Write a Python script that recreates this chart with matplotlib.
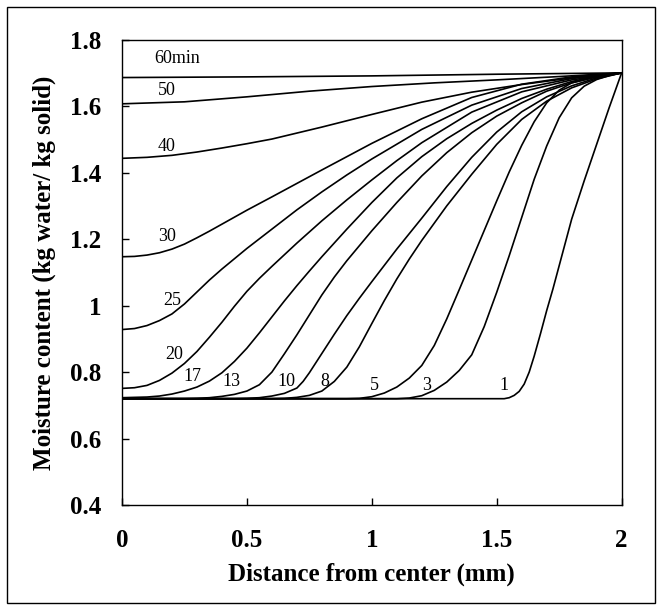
import matplotlib
matplotlib.use("Agg")
import matplotlib.pyplot as plt
from matplotlib.patches import Rectangle

# moisture profiles (distance in mm, moisture kg/kg)
d_60 = [0, 0.5, 1.0, 1.5, 2.0]
m_60 = [1.686, 1.688, 1.691, 1.696, 1.70]

d_50 = [0, 0.25, 0.5, 0.75, 1.0, 1.25, 1.5, 1.75, 2.0]
m_50 = [1.607, 1.613, 1.628, 1.645, 1.659, 1.670, 1.679, 1.689, 1.70]

d_40 = [0, 0.1, 0.2, 0.3, 0.4, 0.5, 0.6, 0.8, 1.0, 1.2, 1.4, 1.6, 1.8, 2.0]
m_40 = [1.443, 1.446, 1.452, 1.462, 1.474, 1.487, 1.501, 1.537, 1.575, 1.612, 1.642, 1.665, 1.685, 1.70]

d_30 = [0, 0.05, 0.1, 0.15, 0.2, 0.25, 0.3, 0.35, 0.4, 0.5, 0.6, 0.8, 1.0, 1.2, 1.4, 1.6, 1.8, 2.0]
m_30 = [1.147, 1.148, 1.152, 1.159, 1.170, 1.185, 1.204, 1.224, 1.245, 1.287, 1.327, 1.408, 1.488, 1.562, 1.626, 1.666, 1.688, 1.70]

d_25 = [0, 0.05, 0.1, 0.15, 0.2, 0.25, 0.3, 0.35, 0.4, 0.5, 0.6, 0.7, 0.8, 0.9, 1.0, 1.2, 1.4, 1.6, 1.8, 2.0]
m_25 = [0.928, 0.931, 0.940, 0.955, 0.975, 1.005, 1.041, 1.077, 1.110, 1.172, 1.230, 1.288, 1.342, 1.393, 1.441, 1.530, 1.603, 1.653, 1.683, 1.70]

d_20 = [0, 0.05, 0.1, 0.15, 0.2, 0.25, 0.3, 0.35, 0.4, 0.45, 0.5, 0.55, 0.6, 0.7, 0.8, 0.9, 1.0, 1.1, 1.2, 1.4, 1.6, 1.8, 2.0]
m_20 = [0.751, 0.753, 0.760, 0.775, 0.797, 0.826, 0.862, 0.905, 0.950, 0.998, 1.043, 1.082, 1.118, 1.188, 1.255, 1.318, 1.378, 1.436, 1.490, 1.582, 1.643, 1.679, 1.70]

d_17 = [0, 0.1, 0.15, 0.2, 0.25, 0.3, 0.35, 0.4, 0.45, 0.5, 0.55, 0.6, 0.65, 0.7, 0.75, 0.8, 0.9, 1.0, 1.1, 1.2, 1.3, 1.4, 1.5, 1.6, 1.7, 1.8, 1.9, 2.0]
m_17 = [0.723, 0.725, 0.728, 0.734, 0.743, 0.755, 0.773, 0.798, 0.832, 0.872, 0.918, 0.966, 1.014, 1.060, 1.104, 1.147, 1.230, 1.310, 1.384, 1.448, 1.502, 1.548, 1.588, 1.623, 1.651, 1.674, 1.690, 1.70]

d_13 = [0, 0.25, 0.3, 0.35, 0.4, 0.45, 0.5, 0.55, 0.6, 0.65, 0.7, 0.75, 0.8, 0.85, 0.9, 1.0, 1.1, 1.2, 1.3, 1.4, 1.5, 1.6, 1.7, 1.8, 1.9, 2.0]
m_13 = [0.72, 0.72, 0.721, 0.723, 0.727, 0.733, 0.743, 0.762, 0.800, 0.855, 0.912, 0.972, 1.032, 1.086, 1.135, 1.225, 1.310, 1.390, 1.460, 1.520, 1.570, 1.610, 1.645, 1.670, 1.688, 1.70]

d_10 = [0, 0.45, 0.5, 0.55, 0.6, 0.65, 0.7, 0.725, 0.75, 0.8, 0.85, 0.9, 0.95, 1.0, 1.1, 1.2, 1.3, 1.4, 1.5, 1.6, 1.7, 1.8, 1.9, 2.0]
m_10 = [0.72, 0.72, 0.721, 0.723, 0.728, 0.736, 0.752, 0.772, 0.798, 0.856, 0.914, 0.970, 1.022, 1.072, 1.170, 1.263, 1.358, 1.446, 1.522, 1.583, 1.628, 1.661, 1.685, 1.70]

d_8 = [0, 0.6, 0.65, 0.7, 0.75, 0.8, 0.85, 0.9, 0.95, 1.0, 1.05, 1.1, 1.15, 1.2, 1.3, 1.4, 1.5, 1.6, 1.7, 1.8, 1.9, 2.0]
m_8 = [0.72, 0.72, 0.721, 0.724, 0.730, 0.743, 0.772, 0.815, 0.876, 0.946, 1.015, 1.080, 1.140, 1.196, 1.300, 1.395, 1.485, 1.560, 1.615, 1.655, 1.682, 1.70]

d_5 = [0, 0.9, 0.95, 1.0, 1.05, 1.1, 1.15, 1.2, 1.25, 1.3, 1.35, 1.4, 1.45, 1.5, 1.55, 1.6, 1.65, 1.7, 1.75, 1.8, 1.9, 2.0]
m_5 = [0.72, 0.72, 0.721, 0.726, 0.737, 0.755, 0.782, 0.820, 0.880, 0.960, 1.048, 1.137, 1.226, 1.315, 1.402, 1.482, 1.553, 1.610, 1.648, 1.670, 1.688, 1.70]

d_3 = [0, 1.1, 1.15, 1.2, 1.25, 1.3, 1.35, 1.4, 1.45, 1.5, 1.55, 1.6, 1.65, 1.7, 1.75, 1.8, 1.85, 1.9, 1.95, 2.0]
m_3 = [0.72, 0.72, 0.722, 0.729, 0.745, 0.770, 0.805, 0.852, 0.937, 1.040, 1.150, 1.265, 1.380, 1.480, 1.565, 1.625, 1.660, 1.680, 1.692, 1.70]

d_1 = [0, 1.5, 1.53, 1.55, 1.57, 1.59, 1.61, 1.63, 1.65, 1.675, 1.7, 1.725, 1.75, 1.8, 1.85, 1.9, 1.95, 2.0]
m_1 = [0.72, 0.72, 0.72, 0.723, 0.730, 0.742, 0.764, 0.800, 0.848, 0.915, 0.985, 1.050, 1.120, 1.260, 1.375, 1.485, 1.595, 1.70]

curves = [(d_60, m_60), (d_50, m_50), (d_40, m_40), (d_30, m_30), (d_25, m_25),
          (d_20, m_20), (d_17, m_17), (d_13, m_13), (d_10, m_10), (d_8, m_8),
          (d_5, m_5), (d_3, m_3), (d_1, m_1)]

# curve labels and where they sit
label_text = ["60min", "50", "40", "30", "25", "20", "17", "13", "10", "8", "5", "3", "1"]
label_x = [0.22, 0.18, 0.18, 0.18, 0.20, 0.21, 0.28, 0.44, 0.66, 0.81, 1.01, 1.22, 1.53]
label_y = [1.743, 1.647, 1.478, 1.208, 1.014, 0.852, 0.786, 0.771, 0.771, 0.771, 0.761, 0.761, 0.761]

serif = "Liberation Serif"

fig = plt.figure(figsize=(6.62, 6.10), dpi=100)
ax = fig.add_axes([0.1843, 0.172, 0.7547, 0.763])

for d, m in curves:
    ax.plot(d, m, color="black", lw=1.2)

for t, x, y in zip(label_text, label_x, label_y):
    ax.text(x, y, t, ha="center", va="center", fontsize=13, family=serif)

ax.set_xlim(0, 2)
ax.set_ylim(0.4, 1.8)
ax.set_xticks([0, 0.5, 1, 1.5, 2])
ax.set_xticklabels(["0", "0.5", "1", "1.5", "2"])
ax.set_yticks([0.4, 0.6, 0.8, 1.0, 1.2, 1.4, 1.6, 1.8])
ax.set_yticklabels(["0.4", "0.6", "0.8", "1", "1.2", "1.4", "1.6", "1.8"])
ax.tick_params(direction="in", length=5, width=1, labelsize=18)
ax.tick_params(axis="x", pad=17)
ax.tick_params(axis="y", pad=15)
for lab in ax.get_xticklabels() + ax.get_yticklabels():
    lab.set_family(serif)
    lab.set_fontweight("bold")
for s in ax.spines.values():
    s.set_linewidth(1)

ax.set_xlabel("Distance from center (mm)", family=serif,
              fontweight="bold", fontsize=18, labelpad=8)
ax.set_ylabel("Moisture content (kg water/ kg solid)", family=serif,
              fontweight="bold", fontsize=18, labelpad=10)

# thin frame around the whole picture
fig.patches.append(Rectangle((0.011, 0.011), 0.978, 0.978, transform=fig.transFigure,
                             fill=False, lw=1, color="black"))

fig.savefig("out.png", dpi=100)
